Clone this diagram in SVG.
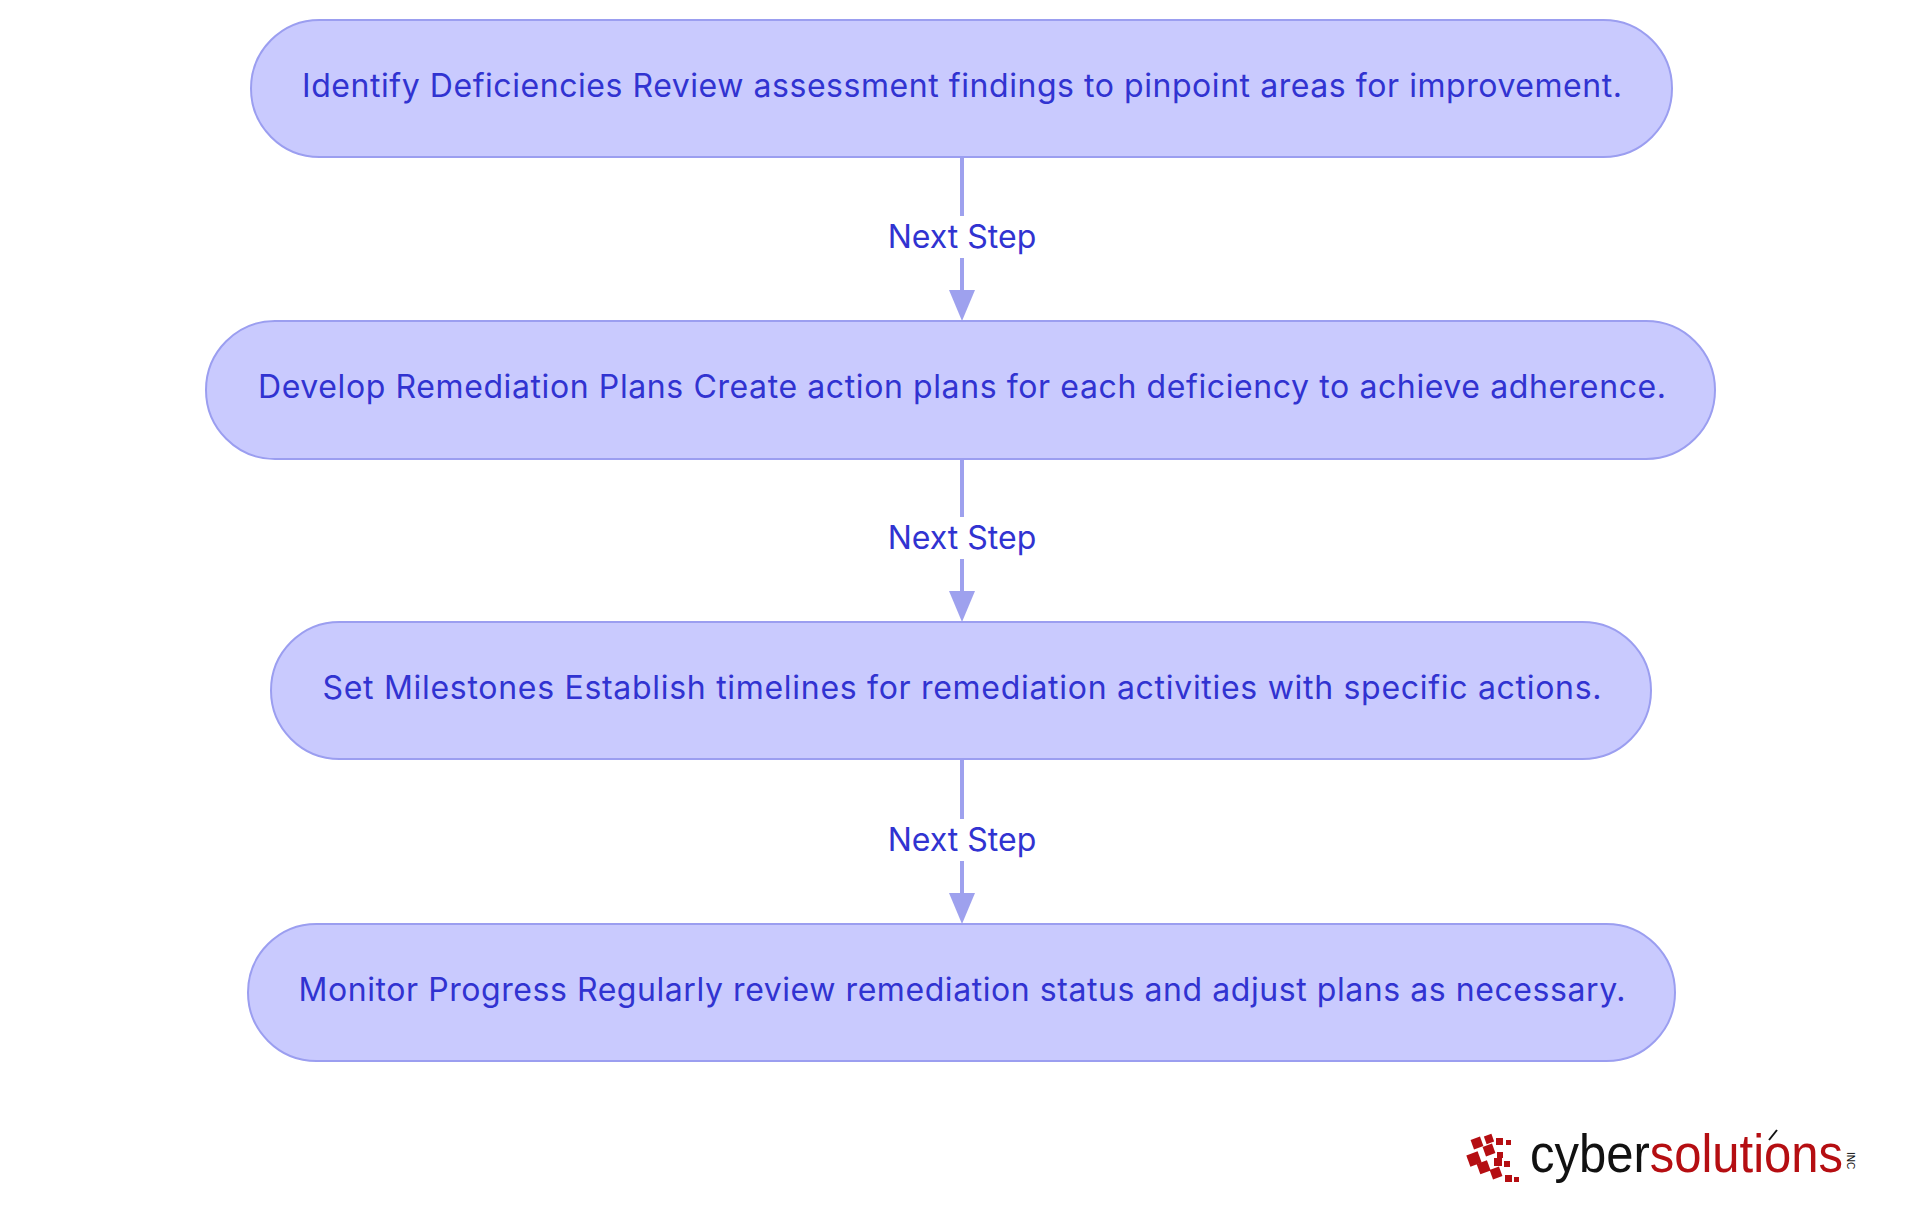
<svg xmlns="http://www.w3.org/2000/svg" width="1920" height="1215" viewBox="0 0 1920 1215">
<style>
.n{fill:#c9cafe;stroke:#9b9ef0;stroke-width:2}
.t{font-family:Inter,"Noto Sans",sans-serif;font-size:32px;fill:#3133d1;text-anchor:middle}
.e{stroke:#9ea1ee;stroke-width:4;fill:none}
.l{font-family:Inter,"Noto Sans",sans-serif;font-size:32px;fill:#3133d1;text-anchor:middle}
.sq{fill:#b50e12}
</style>
<defs><marker id="a" viewBox="0 0 10 10" refX="9" refY="5" markerWidth="7" markerHeight="7" markerUnits="userSpaceOnUse" orient="auto"><path d="M0,0L10,5L0,10z" fill="#9ea1ee"/></marker></defs>
<rect width="1920" height="1215" fill="#fff"/>
<g id="edges">
<path class="e" d="M962,157V290" stroke-width="4"/><path d="M949,290L962,321L975,290z" fill="#9ea1ee"/>
<path class="e" d="M962,459V591"/><path d="M949,591L962,622L975,591z" fill="#9ea1ee"/>
<path class="e" d="M962,759V893"/><path d="M949,893L962,924L975,893z" fill="#9ea1ee"/>
<rect x="877" y="216" width="170" height="42" fill="#fff"/><text class="l" x="962" y="248">Next Step</text>
<rect x="877" y="517" width="170" height="42" fill="#fff"/><text class="l" x="962" y="549">Next Step</text>
<rect x="877" y="819" width="170" height="42" fill="#fff"/><text class="l" x="962" y="851">Next Step</text>
</g>
<g id="n1"><rect class="n" x="251" y="20" width="1421" height="137" rx="68.5"/><text class="t" x="962" y="97" textLength="1320">Identify Deficiencies Review assessment findings to pinpoint areas for improvement.</text></g>
<g id="n2"><rect class="n" x="206" y="321" width="1509" height="138" rx="69"/><text class="t" x="962" y="398" textLength="1408">Develop Remediation Plans Create action plans for each deficiency to achieve adherence.</text></g>
<g id="n3"><rect class="n" x="271" y="622" width="1380" height="137" rx="68.5"/><text class="t" x="962" y="699" textLength="1279">Set Milestones Establish timelines for remediation activities with specific actions.</text></g>
<g id="n4"><rect class="n" x="248" y="924" width="1427" height="137" rx="68.5"/><text class="t" x="962" y="1001" textLength="1327">Monitor Progress Regularly review remediation status and adjust plans as necessary.</text></g>
<g id="logo">
<rect class="sq" x="1468" y="1153" width="12" height="12" transform="rotate(-20 1474 1159)"/>
<rect class="sq" x="1472" y="1138" width="10" height="10" transform="rotate(-20 1477 1143)"/>
<rect class="sq" x="1484" y="1145" width="10" height="10" transform="rotate(-20 1489 1150)"/>
<rect class="sq" x="1478" y="1162" width="11" height="11" transform="rotate(-20 1483 1167)"/>
<rect class="sq" x="1491" y="1168" width="10" height="10" transform="rotate(-20 1496 1173)"/>
<rect class="sq" x="1485" y="1135" width="8" height="8" transform="rotate(-20 1489 1139)"/>
<rect class="sq" x="1496" y="1138" width="7" height="7"/>
<rect class="sq" x="1497" y="1152" width="6" height="6"/>
<rect class="sq" x="1494" y="1158" width="8" height="8"/>
<rect class="sq" x="1504" y="1161" width="6" height="6"/>
<rect class="sq" x="1505" y="1175" width="7" height="7"/>
<rect class="sq" x="1514" y="1177" width="5" height="5"/>
<rect class="sq" x="1506" y="1140" width="5" height="5"/>
<text x="1530" y="1172" font-family="'Liberation Sans',sans-serif" font-size="54" textLength="313" lengthAdjust="spacingAndGlyphs"><tspan fill="#111">cyber</tspan><tspan fill="#b50e12">solutions</tspan></text>
<path d="M1769,1140l8,-10" stroke="#111" stroke-width="2"/>
<text x="0" y="0" font-family="'Liberation Sans',sans-serif" font-size="10" fill="#111" transform="translate(1847,1152) rotate(90)">INC</text>
</g>
</svg>
